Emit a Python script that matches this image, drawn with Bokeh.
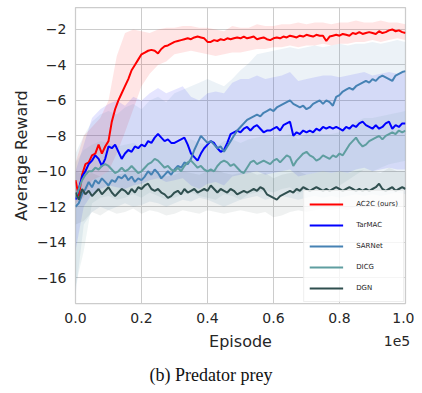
import numpy as np
from bokeh.plotting import figure
from bokeh.models import FixedTicker, LinearAxis, Range1d, Title
from bokeh.embed import file_html
from bokeh.resources import INLINE

# ---------------- data (episodes in units of 1e5) ----------------
episodes = np.linspace(0.0, 1.0, 101)
band_episodes = np.linspace(0.0, 1.0, 41)

series_names = ["AC2C (ours)", "TarMAC", "SARNet", "DICG", "DGN"]
series_colors = ["#ff0000", "#0000ff", "#4682b4", "#5f9ea0", "#2f4f4f"]

ac2c = [-10.5, -11.4, -10.2, -9.6, -9.5, -9.1, -9.0, -8.5, -9.0, -8.6,
        -8.3, -7.2, -6.5, -6.0, -5.6, -5.2, -4.8, -4.3, -4.0, -3.7,
        -3.4, -3.3, -3.2, -3.15, -3.2, -3.35, -3.1, -2.95, -2.9, -2.8,
        -2.7, -2.65, -2.6, -2.55, -2.5, -2.55, -2.45, -2.4, -2.45, -2.5,
        -2.7, -2.7, -2.6, -2.65, -2.55, -2.6, -2.5, -2.55, -2.5, -2.45,
        -2.5, -2.4, -2.5, -2.45, -2.4, -2.55, -2.5, -2.45, -2.55, -2.6,
        -2.5, -2.45, -2.5, -2.4, -2.45, -2.35, -2.4, -2.45, -2.35, -2.4,
        -2.3, -2.35, -2.4, -2.3, -2.35, -2.35, -2.65, -2.4, -2.35, -2.3,
        -2.35, -2.25, -2.3, -2.35, -2.2, -2.25, -2.15, -2.25, -2.2, -2.15,
        -2.2, -2.25, -2.1, -2.2, -2.15, -2.05, -2.0, -2.1, -2.05, -2.15,
        -2.2]
tarmac = [-11.6, -11.0, -10.3, -10.0, -9.6, -9.4, -9.1, -9.3, -9.7, -9.3,
          -8.6, -8.7, -8.5, -8.9, -9.3, -9.0, -8.8, -8.9, -8.6, -8.7,
          -8.5, -8.6, -8.3, -8.4, -8.1, -7.9, -8.1, -8.3, -8.2, -8.4,
          -8.4, -8.3, -8.2, -8.1, -8.5, -9.0, -9.2, -9.4, -9.0, -8.7,
          -8.5, -8.3, -8.4, -8.7, -8.9, -8.8, -8.4, -7.9, -7.8, -7.7,
          -7.8, -7.6, -7.5, -7.7, -7.5, -7.4, -7.6, -7.8, -7.7, -7.7,
          -7.6, -7.5, -7.7, -7.4, -7.3, -7.2, -8.0, -7.8, -7.9, -7.7,
          -7.8, -7.7, -7.8, -7.6, -7.7, -7.5, -7.6, -7.5, -7.6, -7.5,
          -7.6, -7.7, -7.5, -7.6, -7.4, -7.5, -7.3, -7.2, -7.4, -7.5,
          -7.6, -7.4, -7.6, -7.5, -7.3, -7.2, -7.6, -7.4, -7.5, -7.3,
          -7.3]
sarnet = [-12.0, -11.8, -11.3, -11.0, -10.6, -10.9, -10.5, -10.7, -10.4, -10.6,
          -10.8, -10.5, -10.6, -10.3, -10.4, -10.2, -10.5, -10.3, -10.6, -10.4,
          -10.5, -10.3, -10.0, -10.2, -9.9, -10.1, -10.4, -10.2, -10.0, -10.2,
          -9.9, -9.7, -9.8, -9.5, -9.6, -9.3, -8.8, -8.4, -8.0, -8.2,
          -8.4, -8.3, -8.5, -8.7, -8.6, -8.9, -8.6, -8.3, -8.0, -7.7,
          -7.5, -7.3, -7.1, -7.0, -6.9, -6.8, -6.9, -6.7, -6.6, -6.5,
          -6.6, -6.4, -6.3, -6.2, -6.1, -6.0, -6.2, -6.3, -6.4, -6.3,
          -6.5, -6.4, -6.2, -6.1, -6.0, -6.2, -6.0, -6.1, -6.3, -5.8,
          -5.7, -5.5, -5.4, -5.3, -5.4, -5.2, -5.1, -5.0, -4.9, -5.0,
          -4.8, -4.9, -4.7, -4.6, -4.7, -4.8, -4.9, -4.6, -4.5, -4.4,
          -4.35]
dicg = [-11.5, -11.0, -10.5, -10.2, -10.0, -10.0, -9.8, -9.9, -9.7, -9.6,
        -9.7, -9.9, -10.1, -10.0, -9.8, -10.0, -9.9, -9.7, -9.9, -10.1,
        -10.0, -9.8, -9.6, -9.5, -9.3, -9.4, -9.6, -9.8, -9.7, -9.9,
        -10.0, -9.8, -10.0, -9.7, -9.5, -9.4, -9.6, -9.8, -9.7, -9.9,
        -10.0, -9.9, -10.0, -9.7, -9.5, -9.4, -9.5, -9.7, -9.6, -9.8,
        -10.0, -10.1, -9.8, -9.5, -9.4, -9.6, -9.5, -9.4, -9.5, -9.6,
        -9.4, -9.3, -9.5, -9.3, -9.1, -9.2, -9.7, -9.4, -9.2, -9.0,
        -8.9, -9.1, -9.2, -9.4, -9.3, -9.1, -9.2, -9.3, -9.1, -9.2,
        -9.0, -9.1, -8.8, -8.5, -8.3, -8.1, -8.4, -8.6, -8.5, -8.3,
        -8.2, -8.1, -8.0, -8.2, -8.0, -7.9, -7.8, -7.9, -7.7, -7.8,
        -7.7]
dgn = [-11.2, -11.6, -11.0, -11.3, -11.1, -11.4, -11.2, -11.0, -11.3, -11.1,
       -10.9, -11.2, -11.4, -11.2, -11.0, -11.1, -11.3, -11.0, -11.2, -10.9,
       -11.0, -10.8, -10.7, -11.0, -11.1, -11.0, -11.2, -11.3, -11.5, -11.4,
       -11.2, -11.1, -11.3, -11.0, -11.2, -11.1, -11.0, -11.2, -11.1, -11.0,
       -11.1, -10.8, -11.0, -11.2, -11.0, -11.1, -11.2, -11.0, -11.1, -11.3,
       -11.2, -11.1, -11.2, -11.1, -11.0, -11.1, -10.9, -11.0, -11.3, -11.4,
       -11.5, -11.6, -11.4, -11.3, -11.2, -11.1, -11.2, -11.0, -11.1, -10.9,
       -11.0, -11.1, -11.0, -10.9, -11.0, -11.1, -11.0, -11.1, -11.0, -10.9,
       -11.0, -11.1, -11.0, -10.9, -11.0, -11.1, -11.0, -11.1, -11.0, -11.1,
       -11.0, -10.9, -10.7, -11.0, -11.1, -11.0, -10.9, -11.1, -11.0, -10.9,
       -11.0]

# shaded bands (upper / lower), sampled every 0.025e5 episodes
ac2c_upper = [-9.5, -8.0, -7.5, -7.0, -6.0, -3.5, -2.2, -2.0, -2.1, -2.2,
              -2.0, -1.9, -1.9, -1.8, -1.8, -1.9, -1.9, -2.0, -2.1, -1.8,
              -1.9, -1.9, -1.7, -1.8, -1.8, -1.7, -1.7, -1.6, -1.7, -1.6,
              -1.6, -1.7, -1.6, -1.6, -1.5, -1.6, -1.6, -1.5, -1.6, -1.6, -1.7]
ac2c_lower = [-11.8, -11.5, -10.5, -10.3, -10.0, -9.0, -7.8, -6.5, -5.2, -4.5,
              -4.0, -3.8, -3.4, -3.3, -3.2, -3.3, -3.4, -3.5, -3.4, -3.3,
              -3.3, -3.2, -3.1, -3.1, -3.0, -3.0, -2.9, -3.0, -2.9, -2.9,
              -2.8, -2.9, -2.8, -2.8, -2.7, -2.7, -2.6, -2.7, -2.6, -2.5, -2.6]
tarmac_upper = [-10.0, -8.5, -7.0, -6.5, -6.2, -6.0, -6.3, -5.8, -6.0, -5.6,
                -5.3, -5.6, -5.4, -5.2, -5.8, -6.0, -5.6, -5.5, -5.6, -5.0,
                -4.8, -4.8, -4.6, -4.8, -4.7, -4.6, -4.4, -4.9, -4.8, -4.7,
                -4.6, -4.6, -4.7, -4.6, -4.5, -4.4, -4.6, -4.5, -4.4, -4.5, -4.4]
tarmac_lower = [-14.5, -12.0, -11.3, -11.0, -10.8, -10.9, -11.0, -10.8, -10.7, -10.5,
                -10.4, -10.6, -10.5, -10.4, -10.8, -11.0, -10.7, -10.6, -10.8, -10.3,
                -10.2, -10.1, -10.0, -10.2, -10.1, -10.0, -9.9, -10.3, -10.2, -10.1,
                -10.0, -10.1, -10.0, -10.1, -9.9, -9.8, -10.0, -9.9, -9.8, -9.9, -9.9]
sarnet_upper = [-9.0, -8.0, -7.2, -6.8, -6.6, -6.8, -6.4, -6.2, -6.5, -6.0,
                -5.8, -6.1, -5.6, -5.4, -5.2, -5.0, -4.8, -5.0, -5.2, -4.8,
                -4.3, -3.9, -3.4, -3.3, -3.2, -3.1, -3.0, -3.1, -3.0, -2.9,
                -3.0, -2.9, -2.8, -2.9, -2.8, -2.8, -2.7, -2.8, -2.7, -2.6, -2.7]
sarnet_lower = [-17.0, -13.0, -12.3, -12.0, -12.2, -12.0, -11.8, -12.0, -11.9, -11.7,
                -11.8, -12.0, -11.8, -11.6, -11.7, -11.5, -11.6, -11.8, -12.0, -11.8,
                -11.6, -11.5, -11.4, -11.6, -11.5, -11.4, -11.5, -11.6, -11.5, -11.4,
                -11.5, -11.4, -11.5, -11.4, -11.3, -11.4, -11.3, -11.4, -11.3, -11.2, -11.3]
dicg_upper = [-9.5, -8.8, -8.5, -8.3, -8.4, -8.6, -8.5, -8.4, -8.6, -8.2,
              -8.1, -8.4, -8.5, -8.3, -8.2, -8.4, -8.5, -8.6, -8.3, -8.2,
              -8.4, -8.2, -8.1, -8.0, -8.1, -8.0, -7.9, -8.2, -7.9, -7.8,
              -7.9, -7.9, -7.8, -7.6, -7.2, -7.0, -7.0, -6.9, -6.8, -6.7, -6.6]
dicg_lower = [-16.5, -14.5, -11.8, -11.5, -11.4, -11.6, -11.5, -11.3, -11.5, -11.2,
              -11.4, -11.6, -11.5, -11.3, -11.2, -11.4, -11.5, -11.6, -11.3, -11.4,
              -11.6, -11.3, -11.2, -11.1, -11.2, -11.0, -10.9, -11.3, -11.0, -10.9,
              -11.0, -10.9, -10.8, -10.5, -10.2, -9.9, -10.0, -9.8, -9.6, -9.5, -9.4]
dgn_upper = [-10.0, -10.2, -10.1, -10.3, -10.0, -10.2, -10.1, -9.9, -10.2, -10.0,
             -10.1, -10.3, -10.2, -10.0, -10.1, -10.2, -10.0, -9.9, -10.1, -10.2,
             -10.1, -10.0, -10.2, -10.1, -10.4, -10.2, -10.1, -10.0, -10.2, -10.1,
             -10.0, -10.1, -10.0, -10.1, -10.0, -9.9, -10.0, -10.1, -9.8, -10.0, -10.0]
dgn_lower = [-13.0, -12.8, -12.3, -12.5, -12.2, -12.4, -12.3, -12.1, -12.4, -12.2,
             -12.3, -12.5, -12.4, -12.2, -12.3, -12.4, -12.2, -12.3, -12.4, -12.3,
             -12.2, -12.3, -12.4, -12.3, -12.6, -12.5, -12.3, -12.2, -12.3, -12.2,
             -12.1, -12.2, -12.1, -12.2, -12.0, -12.1, -12.0, -12.1, -11.9, -12.0, -12.0]

x_ticks = [0.0, 0.2, 0.4, 0.6, 0.8, 1.0]
x_tick_labels = ["0.0", "0.2", "0.4", "0.6", "0.8", "1.0"]
y_ticks = [-16, -14, -12, -10, -8, -6, -4, -2]
y_tick_labels = ["\u221216", "\u221214", "\u221212", "\u221210", "\u22128", "\u22126", "\u22124", "\u22122"]
x_offset_text = "1e5"
caption = "(b) Predator prey"

means = [ac2c, tarmac, sarnet, dicg, dgn]
uppers = [ac2c_upper, tarmac_upper, sarnet_upper, dicg_upper, dgn_upper]
lowers = [ac2c_lower, tarmac_lower, sarnet_lower, dicg_lower, dgn_lower]
band_alphas = [0.1, 0.1, 0.1, 0.1, 0.08]

# ---------------- figure ----------------
FONT = "DejaVu Sans"
TXT = "#262626"
W, H = 414, 393
p = figure(width=W, height=H, output_backend="svg", toolbar_location=None,
           x_range=Range1d(0.0, 1.0), y_range=Range1d(-17.46, -0.76),
           min_border_left=75, min_border_right=9, min_border_top=7, min_border_bottom=80)
p.outline_line_color = "#cccccc"
p.outline_line_width = 1.25
p.background_fill_color = "white"
p.border_fill_color = "white"

for lo, hi, c, a in zip(lowers, uppers, series_colors, band_alphas):
    p.varea(x=band_episodes, y1=lo, y2=hi, fill_color=c, fill_alpha=a)

for m, c, n in zip(means, series_colors, series_names):
    p.line(episodes, m, line_color=c, line_width=2, legend_label=n)


def style_axis(ax):
    ax.axis_line_color = None
    ax.major_tick_line_color = None
    ax.minor_tick_line_color = None
    ax.major_tick_out = 0
    ax.major_tick_in = 0
    ax.minor_tick_out = 0
    ax.minor_tick_in = 0
    ax.major_label_text_font = FONT
    ax.major_label_text_font_size = "14px"
    ax.major_label_text_color = TXT
    ax.axis_label_text_font = FONT
    ax.axis_label_text_font_size = "16px"
    ax.axis_label_text_font_style = "normal"
    ax.axis_label_text_color = TXT


for ax in (p.xaxis[0], p.yaxis[0]):
    style_axis(ax)

p.xaxis.major_label_standoff = 9
p.yaxis.major_label_standoff = 9
p.xaxis.ticker = FixedTicker(ticks=x_ticks)
p.xaxis.major_label_overrides = dict(zip(x_ticks, x_tick_labels))
p.yaxis.ticker = FixedTicker(ticks=y_ticks)
p.yaxis.major_label_overrides = dict(zip(y_ticks, y_tick_labels))
p.yaxis.axis_label = "Average Reward"
p.yaxis.axis_label_standoff = 3

# second bottom axis: carries the "1e5" offset text and the "Episode" label on one row
ax2 = LinearAxis(ticker=FixedTicker(ticks=[1.0]),
                 major_label_overrides={1.0: x_offset_text},
                 axis_label="Episode")
style_axis(ax2)
ax2.major_label_text_align = "right"
ax2.major_label_standoff = 10
ax2.axis_label_standoff = -17
p.add_layout(ax2, "below")

p.add_layout(Title(text=caption, align="left", offset=74, standoff=18,
                   text_font="Liberation Serif", text_font_size="18px",
                   text_font_style="normal", text_color="#111111"), "below")

p.xgrid.grid_line_color = "#cccccc"
p.ygrid.grid_line_color = "#cccccc"
p.xgrid.ticker = FixedTicker(ticks=x_ticks)
p.ygrid.ticker = FixedTicker(ticks=y_ticks)

lg = p.legend[0]
lg.location = "bottom_right"
lg.margin = 1
lg.padding = 5
lg.spacing = 5
lg.glyph_width = 34
lg.glyph_height = 16
lg.label_height = 16
lg.label_standoff = 13
lg.label_text_font = FONT
lg.label_text_font_size = "7px"
lg.label_text_color = TXT
lg.background_fill_color = "white"
lg.background_fill_alpha = 0.8
lg.border_line_color = "#dddddd"
lg.border_line_width = 1

open("out.html", "w").write(file_html(p, INLINE))
